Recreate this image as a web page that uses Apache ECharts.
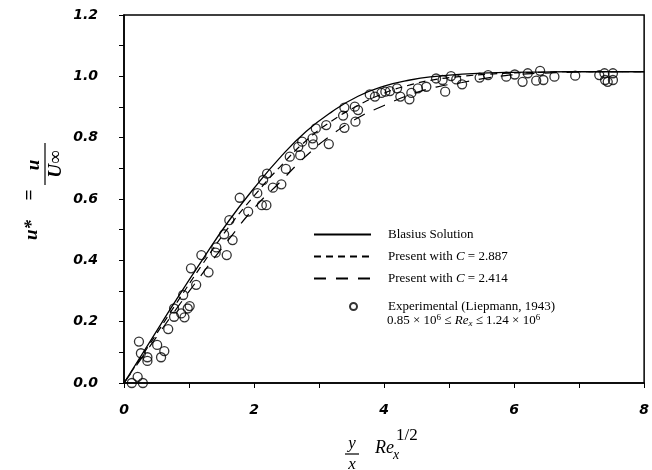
<!DOCTYPE html>
<html>
<head>
<meta charset="utf-8">
<script src="https://cdn.jsdelivr.net/npm/echarts@6/dist/echarts.min.js"></script>
<style>
  html, body { margin: 0; padding: 0; background: #fff; }
</style>
</head>
<body>
<div id="main" style="width: 652px; height: 470px;"></div>
<script type="text/javascript">
    // 横坐标 eta = (y/x) Re_x^(1/2)
    var etaGrid = [0, 0.4, 0.8, 1.2, 1.6, 2.0, 2.4, 2.8, 3.2, 3.6, 4.0, 4.4, 4.8, 5.2, 5.6, 6.0, 6.4, 6.8, 7.2, 7.6, 8.0];
    var blasius = [0, 0.135, 0.27, 0.40, 0.525, 0.635, 0.735, 0.82, 0.885, 0.935, 0.968, 0.988, 1.0, 1.007, 1.011, 1.013, 1.014, 1.015, 1.015, 1.015, 1.015];
    var presentC2887 = [0, 0.128, 0.258, 0.385, 0.505, 0.61, 0.705, 0.79, 0.855, 0.905, 0.945, 0.972, 0.99, 1.0, 1.007, 1.011, 1.013, 1.015, 1.015, 1.015, 1.015];
    var presentC2414 = [0, 0.12, 0.24, 0.355, 0.465, 0.57, 0.655, 0.74, 0.81, 0.865, 0.905, 0.94, 0.965, 0.98, 0.995, 1.005, 1.01, 1.013, 1.015, 1.015, 1.015];

    // Liepmann (1943) 实验点
    var expX = [0.12, 0.21, 0.29, 0.23, 0.26, 0.36, 0.36, 0.51, 0.62, 0.57, 0.68, 0.77, 0.77, 0.91, 0.88, 0.93, 0.98, 1.01, 1.11, 1.03,
                1.19, 1.30, 1.42, 1.41, 1.58, 1.54, 1.67, 1.62, 1.78, 1.91, 2.05, 2.12, 2.19, 2.14, 2.20, 2.29, 2.42, 2.49, 2.55, 2.68,
                2.71, 2.74, 2.90, 2.91, 2.95, 3.11, 3.15, 3.39, 3.37, 3.39, 3.56, 3.60, 3.55, 3.78, 3.86, 3.96, 4.02, 4.09, 4.20, 4.25,
                4.39, 4.42, 4.52, 4.65, 4.80, 4.90, 5.03, 5.11, 5.20, 4.94, 5.47, 5.60, 5.88, 6.01, 6.13, 6.21, 6.34, 6.40, 6.45, 6.62,
                6.94, 7.31, 7.40, 7.52, 7.52, 7.39, 7.44];
    var expY = [0.0, 0.02, 0.0, 0.135, 0.097, 0.084, 0.072, 0.124, 0.104, 0.084, 0.176, 0.216, 0.243, 0.287, 0.227, 0.214, 0.243, 0.251, 0.32, 0.374,
                0.417, 0.361, 0.442, 0.425, 0.417, 0.485, 0.466, 0.531, 0.604, 0.559, 0.619, 0.58, 0.58, 0.662, 0.683, 0.637, 0.648, 0.698, 0.738, 0.770,
                0.743, 0.787, 0.798, 0.778, 0.830, 0.841, 0.779, 0.832, 0.872, 0.898, 0.852, 0.890, 0.901, 0.941, 0.934, 0.946, 0.950, 0.952, 0.961, 0.934,
                0.925, 0.946, 0.961, 0.966, 0.993, 0.988, 1.001, 0.990, 0.974, 0.950, 0.996, 1.004, 0.999, 1.006, 0.982, 1.010, 0.986, 1.018, 0.988, 0.999,
                1.002, 1.004, 0.988, 1.010, 0.988, 1.010, 0.982];

    var xTicks = [0, 2, 4, 6, 8];
    var yTicks = [0.0, 0.2, 0.4, 0.6, 0.8, 1.0, 1.2];

    function pairs(xs, ys) {
        var out = [];
        for (var i = 0; i < xs.length; i++) out.push([xs[i], ys[i]]);
        return out;
    }

    var serif = '"Liberation Serif", "DejaVu Serif", serif';
    var tickFont = { color: '#000', fontFamily: '"DejaVu Sans", sans-serif', fontStyle: 'italic', fontWeight: 'bold', fontSize: 14 };
    var titleFont = { fontFamily: serif, fontStyle: 'italic', fontWeight: 'bold', fontSize: 19, fill: '#000' };

    var myChart = echarts.init(document.getElementById('main'));
    var option = {
        animation: false,
        backgroundColor: '#fff',
        grid: { left: 124, right: 7, top: 15, bottom: 87, show: true, borderColor: '#000', borderWidth: 1.5, backgroundColor: 'transparent' },
        xAxis: {
            type: 'value', min: xTicks[0], max: xTicks[xTicks.length - 1], interval: 2,
            axisLine: { lineStyle: { color: '#000', width: 1.5 } },
            axisTick: { length: 5, lineStyle: { color: '#000' } },
            minorTick: { show: true, splitNumber: 2, length: 5, lineStyle: { color: '#000' } },
            splitLine: { show: false },
            axisLabel: Object.assign({ margin: 20, formatter: function (v) { return String(v); } }, tickFont)
        },
        yAxis: {
            type: 'value', min: yTicks[0], max: yTicks[yTicks.length - 1], interval: 0.2,
            axisLine: { lineStyle: { color: '#000', width: 1.5 } },
            axisTick: { length: 5, lineStyle: { color: '#000' } },
            minorTick: { show: true, splitNumber: 2, length: 5, lineStyle: { color: '#000' } },
            splitLine: { show: false },
            axisLabel: Object.assign({ margin: 26, formatter: function (v) { return v.toFixed(1); } }, tickFont)
        },
        legend: [
            {
                orient: 'vertical', left: 313, top: 228, padding: 0,
                itemWidth: 57, itemHeight: 14, itemGap: 9,
                itemStyle: { opacity: 0 },
                data: ['Blasius Solution', 'Present with C = 2.887', 'Present with C = 2.414'],
                formatter: function (name) {
                    if (name === 'Blasius Solution') return '{t|Blasius Solution}';
                    return '{t|Present with }{i|C}{t|' + name.slice(14) + '}';
                },
                textStyle: {
                    padding: [0, 0, 0, 12],
                    rich: {
                        t: { fontFamily: serif, fontSize: 13, color: '#000' },
                        i: { fontFamily: serif, fontSize: 13, fontStyle: 'italic', color: '#000' }
                    }
                }
            },
            {
                orient: 'vertical', left: 349, top: 300, padding: 0,
                itemWidth: 7, itemHeight: 7,
                data: ['Experimental (Liepmann, 1943)'],
                textStyle: { fontFamily: serif, fontSize: 13, color: '#000', padding: [0, 0, 0, 26] }
            }
        ],
        graphic: [
            // 纵轴标题 u* = u / U∞
            {
                type: 'group', x: 45, y: 200, rotation: Math.PI / 2,
                children: [
                    { type: 'text', x: -20, y: -13, style: Object.assign({ text: 'u*', align: 'right', verticalAlign: 'middle' }, titleFont) },
                    { type: 'text', x: 5, y: -15, style: Object.assign({ text: '=', align: 'center', verticalAlign: 'middle' }, titleFont) },
                    { type: 'text', x: 35, y: -1, style: Object.assign({ text: 'u', align: 'center', verticalAlign: 'bottom' }, titleFont) },
                    { type: 'line', shape: { x1: 15, y1: 0, x2: 57, y2: 0 }, style: { stroke: '#000', lineWidth: 1.2 } },
                    { type: 'text', x: 36, y: 2, style: Object.assign({ text: 'U∞', align: 'center', verticalAlign: 'top' }, titleFont) }
                ]
            },
            // 横轴标题 (y/x) Re_x^(1/2)
            {
                type: 'group', x: 0, y: 0,
                children: [
                    { type: 'text', x: 352, y: 452, style: { text: 'y', fontFamily: serif, fontStyle: 'italic', fontSize: 17, fill: '#000', align: 'center', verticalAlign: 'bottom' } },
                    { type: 'line', shape: { x1: 345, y1: 454, x2: 359, y2: 454 }, style: { stroke: '#000', lineWidth: 1.2 } },
                    { type: 'text', x: 352, y: 456, style: { text: 'x', fontFamily: serif, fontStyle: 'italic', fontSize: 17, fill: '#000', align: 'center', verticalAlign: 'top' } },
                    { type: 'text', x: 375, y: 448, style: { text: 'Re', fontFamily: serif, fontStyle: 'italic', fontSize: 18, fill: '#000', align: 'left', verticalAlign: 'middle' } },
                    { type: 'text', x: 393, y: 455, style: { text: 'x', fontFamily: serif, fontStyle: 'italic', fontSize: 14, fill: '#000', align: 'left', verticalAlign: 'middle' } },
                    { type: 'text', x: 396, y: 436, style: { text: '1/2', fontFamily: serif, fontSize: 17, fill: '#000', align: 'left', verticalAlign: 'middle' } }
                ]
            },
            // 图例第二行：Re_x 范围
            {
                type: 'text', x: 387, y: 321,
                style: {
                    text: '{t|0.85 × 10}{s|6}{t| ≤ }{i|Re}{b|x}{t| ≤ 1.24 × 10}{s|6}',
                    verticalAlign: 'middle',
                    rich: {
                        t: { fontFamily: serif, fontSize: 13, fill: '#000' },
                        i: { fontFamily: serif, fontSize: 13, fontStyle: 'italic', fill: '#000' },
                        s: { fontFamily: serif, fontSize: 9, fill: '#000', verticalAlign: 'top', padding: [0, 0, 6, 0] },
                        b: { fontFamily: serif, fontSize: 9, fontStyle: 'italic', fill: '#000', verticalAlign: 'bottom', padding: [6, 0, 0, 0] }
                    }
                }
            }
        ],
        series: [
            {
                name: 'Blasius Solution', type: 'line', symbol: 'none', smooth: true,
                data: pairs(etaGrid, blasius),
                lineStyle: { color: '#000', width: 1.3, type: 'solid' },
                itemStyle: { color: '#000' }
            },
            {
                name: 'Present with C = 2.887', type: 'line', symbol: 'none', smooth: true,
                data: pairs(etaGrid, presentC2887),
                lineStyle: { color: '#000', width: 1.2, type: [7, 5] },
                itemStyle: { color: '#000' }
            },
            {
                name: 'Present with C = 2.414', type: 'line', symbol: 'none', smooth: true,
                data: pairs(etaGrid, presentC2414),
                lineStyle: { color: '#000', width: 1.2, type: [12, 10] },
                itemStyle: { color: '#000' }
            },
            {
                name: 'Experimental (Liepmann, 1943)', type: 'scatter',
                data: pairs(expX, expY),
                symbol: 'circle', symbolSize: 9,
                itemStyle: { color: 'rgba(0,0,0,0)', borderColor: '#000', borderWidth: 1.3 },
                z: 3
            }
        ]
    };
    myChart.setOption(option);
</script>
</body>
</html>
